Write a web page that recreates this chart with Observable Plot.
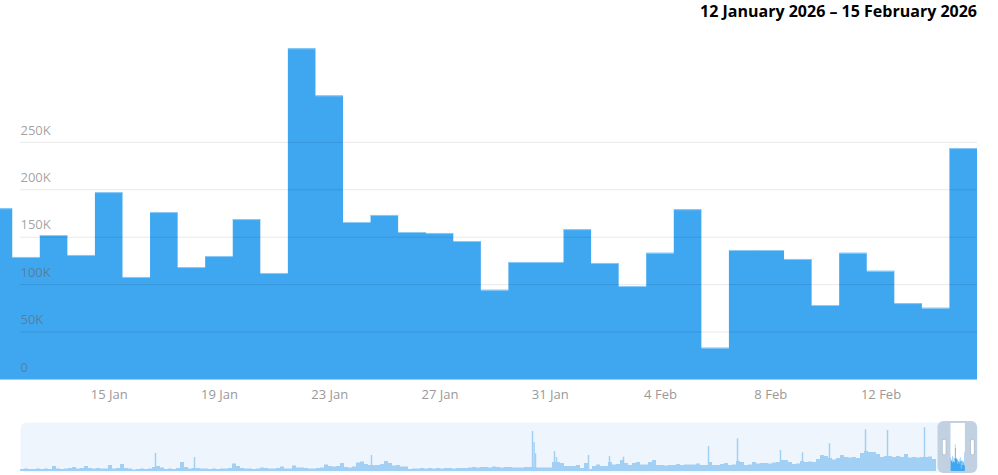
<!DOCTYPE html>
<html>
<head>
<meta charset="utf-8">
<script src="https://cdn.jsdelivr.net/npm/d3@7"></script>
<script src="https://cdn.jsdelivr.net/npm/@observablehq/plot@0.6"></script>
<style>
  html, body { margin: 0; padding: 0; background: #fff; }
  #wrap { position: relative; width: 998px; height: 475px; overflow: hidden; font-family: 'Open Sans', sans-serif; }
  #title { position: absolute; right: 21px; top: 2px; font: bold 16px/18px 'Open Sans', sans-serif; color: #000; white-space: nowrap; }
  #main { position: absolute; left: 0; top: 0; }
  #nav { position: absolute; left: 0; top: 420px; }
</style>
</head>
<body>
<div id="wrap">
  <div id="main"></div>
  <div id="nav"></div>
  <div id="title">12 January 2026 – 15 February 2026</div>
</div>
<script>
// ---- main chart data (daily page views) ----
const firstDay = "2026-01-11";
const lastDay = "2026-02-15";
const views = [180000, 128700, 151800, 130800, 197000, 107600, 176000, 118000, 129700, 168600,
               111800, 348600, 299000, 165500, 173000, 155000, 154000, 145500, 94000, 123400,
               123400, 158000, 122400, 98000, 133000, 179000, 33000, 136000, 136000, 126600,
               78000, 133000, 114000, 80000, 75000, 243400];
const yTicks = [0, 50000, 100000, 150000, 200000, 250000];
const xTickDays = ["2026-01-15", "2026-01-19", "2026-01-23", "2026-01-27",
                   "2026-01-31", "2026-02-04", "2026-02-08", "2026-02-12"];

// ---- navigator data (long history, thousands of views, evenly spaced samples) ----
const navBase = [26,33,26,26,33,26,33,26,65,33, 26,33,39,52,33,39,65,39,33,39,
  33,33,78,33,39,91,39,33,20,26, 33,26,33,52,65,46,26,33,26,39, 117,52,33,39,39,33,
  33,26,33,26,33,33,39,98,65,39, 33,33,26,33,46,39,33,33,39,59,
  33,33,72,46,46,39,33,33,39,46, 85,65,59,65,104,52,46,59,111,124, 91,78,78,78,91,130,104,
  72,78,59,59,26,33,33,39, 33,39,33,39,33,39,39,33,39,39,
  39,46,52,46,52,52,46,59,52,46, 52,52,46,46,46,52,52,52,46,46, 46,46,117,117,104,65,65,65,
  78,39,104,26,65,85,65,65,117,85, 91,143,104,78,104,117,85,85,117,143,
  78,78,72,78,78,91,78,85,85,85, 98,78,78,117,78,78,91,104,78,85, 130,117,78,85,117,98,104,
  104,98,111,117,143,143,117,91,98,130, 117,124,117,156,208,195,169,150,169,208,
  182,176,182,169,234,260,247,247,221,182, 195,195,182,195,182,221,176,182,176,182, 182,189,156];
const navSpikeAt = [33.75, 43.5, 87.75, 128, 128.4, 128.75, 133.5, 134, 142, 147.25,
                    150.75, 172, 179.25, 190, 195.5, 202.25, 211.25, 216.75, 226];
const navSpikeK = [234, 182, 208, 520, 377, 230, 260, 182, 208, 195,
                   186, 325, 425, 273, 243, 360, 542, 533, 568];
const navSelStart = 232.625;   // navigator position of the selected range start
const navDayW = 0.1;           // navigator units per day

// ---- build tables ----
const parse = d3.utcParse("%Y-%m-%d");
const days = d3.utcDay.range(parse(firstDay), d3.utcDay.offset(parse(lastDay), 1));
const rows = days.map((d, i) => ({t1: d3.utcHour.offset(d, -12), t2: d3.utcHour.offset(d, 12), v: views[i]}));
const areaPts = rows.map(r => ({t: r.t1, v: r.v})).concat([{t: rows[rows.length - 1].t2, v: rows[rows.length - 1].v}]);
const xTicks = xTickDays.map(parse);
const fmtK = d => d === 0 ? "0" : (d / 1000) + "K";

const BLUE = "#3fa6f0";

const main = Plot.plot({
  width: 998,
  height: 410,
  marginLeft: 0,
  marginRight: 21,
  marginTop: 47,
  marginBottom: 31,
  style: {fontFamily: "'Open Sans', sans-serif", fontSize: "13px", background: "#fff"},
  x: {type: "utc", domain: [new Date("2026-01-11T01:21:00Z"), new Date("2026-02-15T12:00:00Z")]},
  y: {domain: [0, 350000]},
  marks: [
    Plot.areaY(areaPts, {x: "t", y: "v", curve: "step-after", fill: BLUE, clip: true}),
    Plot.ruleY(rows, {x1: "t1", x2: "t2", y: "v", stroke: "#8ecbf6", strokeWidth: 1, clip: true}),
    Plot.ruleY(yTicks.filter(d => d > 0), {stroke: "#000", strokeOpacity: 0.09, insetLeft: 20}),
    Plot.ruleY([0], {stroke: "#9ad0f6", strokeWidth: 1}),
    Plot.axisY(yTicks, {anchor: "left", tickSize: 0, tickPadding: 0, textAnchor: "start", dx: 20, dy: -12,
      tickFormat: fmtK, fill: "#666", fillOpacity: 0.62, fontSize: 13, label: null}),
    Plot.axisX(xTicks, {anchor: "bottom", tickSize: 0, tickPadding: 10, tickFormat: d3.utcFormat("%-d %b"),
      fill: "#999", fontSize: 13, label: null})
  ]
});
document.getElementById("main").appendChild(main);

// ---- navigator ----
const navPts = navBase.map((v, i) => ({i, v})).concat([{i: navBase.length, v: navBase[navBase.length - 1]}]);
const navSpikes = navSpikeAt.map((x, k) => ({x, v: navSpikeK[k]}));
const navMain = views.map((v, k) => ({i: navSelStart + navDayW * k, v: v / 1000}))
  .concat([{i: navSelStart + navDayW * views.length, v: views[views.length - 1] / 1000}]);
const navSelEnd = navSelStart + navDayW * views.length;
const sel = [{s: navSelStart, e: navSelEnd}];

const nav = Plot.plot({
  width: 998,
  height: 55,
  marginLeft: 20,
  marginRight: 21,
  marginTop: 2,
  marginBottom: 3,
  style: {background: "transparent"},
  x: {domain: [0, 239.25], axis: null},
  y: {domain: [0, 624], insetTop: 1, insetBottom: 1, axis: null},
  marks: [
    Plot.frame({fill: "#eef5fc", stroke: null, rx: 6}),
    Plot.areaY(navPts, {x: "i", y: "v", curve: "step-after", fill: "#a2d0f5"}),
    Plot.ruleX(navSpikes, {x: "x", y1: 0, y2: "v", stroke: "#a2d0f5", strokeWidth: 1.5}),
    Plot.rect(sel, {x1: d => d.s - 3.25, x2: d => d.e + 3.05, fill: "#c2d1e1", rx: 6, insetTop: -1, insetBottom: -1}),
    Plot.rect(sel, {x1: "s", x2: "e", fill: "#fff", insetTop: 1, insetBottom: 1}),
    Plot.areaY(navMain, {x: "i", y: "v", curve: "step-after", fill: BLUE}),
    Plot.ruleX(sel, {x: d => d.s - 1.7, y1: 234, y2: 390, stroke: "#aebdcc", strokeWidth: 4.5, strokeLinecap: "round"}),
    Plot.ruleX(sel, {x: d => d.s - 1.7, y1: 234, y2: 390, stroke: "#fff", strokeWidth: 3, strokeLinecap: "round"}),
    Plot.ruleX(sel, {x: d => d.e + 1.75, y1: 234, y2: 390, stroke: "#aebdcc", strokeWidth: 4.5, strokeLinecap: "round"}),
    Plot.ruleX(sel, {x: d => d.e + 1.75, y1: 234, y2: 390, stroke: "#fff", strokeWidth: 3, strokeLinecap: "round"})
  ]
});
document.getElementById("nav").appendChild(nav);
</script>
</body>
</html>
